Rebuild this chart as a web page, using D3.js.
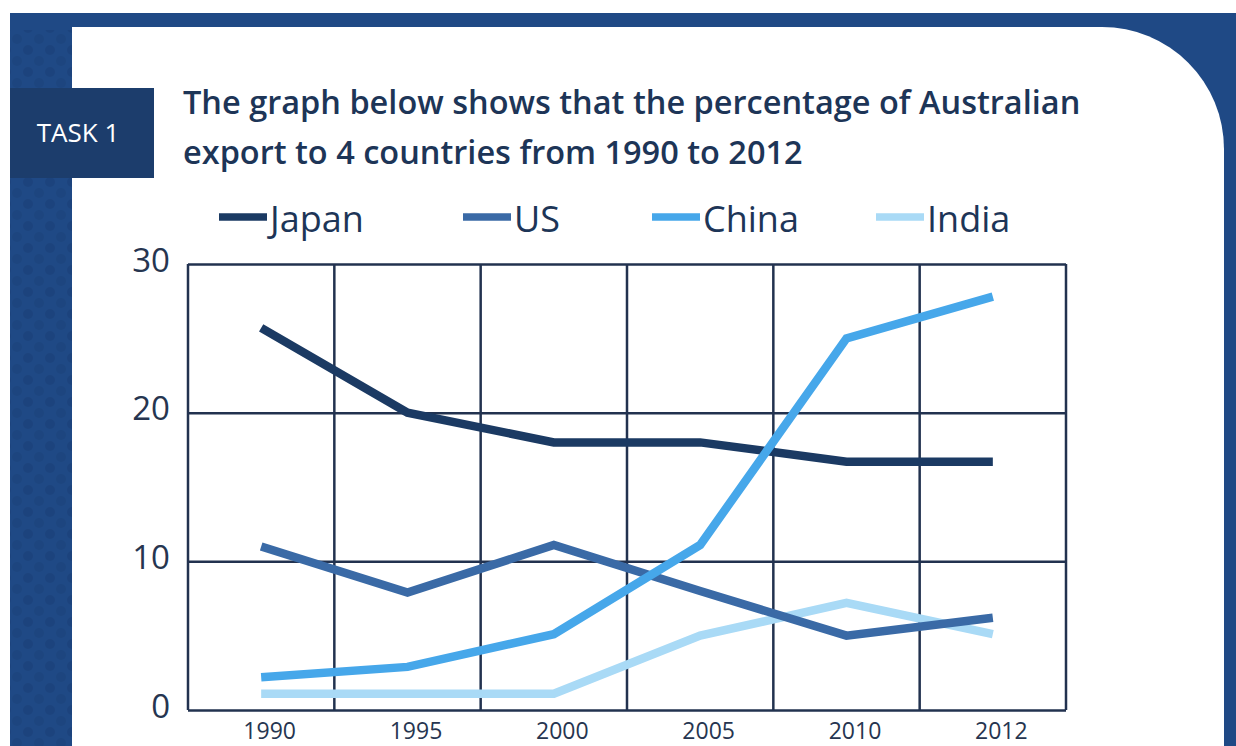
<!DOCTYPE html>
<html>
<head>
<meta charset="utf-8">
<script src="https://cdn.jsdelivr.net/npm/d3@7"></script>
<style>
  html, body { margin: 0; padding: 0; background: #ffffff; }
  svg { display: block; }
  text { font-family: "Open Sans", "Noto Sans", sans-serif; }
</style>
</head>
<body>
<svg id="chart" width="1236" height="746"></svg>
<script>
// ---- data ----
const years = ["1990", "1995", "2000", "2005", "2010", "2012"];
const seriesNames = ["Japan", "US", "China", "India"];
const japan = [25.7, 20, 18, 18, 16.7, 16.7];
const us    = [11, 7.9, 11.1, 8, 5, 6.2];
const china = [2.2, 2.9, 5.1, 11.1, 25, 27.8];
const india = [1.1, 1.1, 1.1, 5, 7.2, 5.1];
const yTicks = [0, 10, 20, 30];
const titleLines = ["The graph below shows that the percentage of Australian",
                    "export to 4 countries from 1990 to 2012"];
const taskLabel = "TASK 1";

const colors = {Japan: "#1b3a63", US: "#3a6aa6", China: "#46a7ea", India: "#a9daf6"};
const values = {Japan: japan, US: us, China: china, India: india};

(function () {
const svg = d3.select("#chart");
const W = 1236, H = 746;

// ---- background frame ----
const navy = "#1f4985";
svg.append("rect").attr("x", 10).attr("y", 13).attr("width", W - 10).attr("height", H - 13).attr("fill", navy);

// dotted texture
const defs = svg.append("defs");
const pat = defs.append("pattern").attr("id", "dots").attr("width", 22).attr("height", 22)
  .attr("patternUnits", "userSpaceOnUse");
pat.append("rect").attr("width", 22).attr("height", 22).attr("fill", navy);
pat.append("circle").attr("cx", 6).attr("cy", 6).attr("r", 5).attr("fill", "#1a3f77").attr("opacity", 0.7);
pat.append("circle").attr("cx", 17).attr("cy", 17).attr("r", 5).attr("fill", "#1a3f77").attr("opacity", 0.55);
svg.append("rect").attr("x", 10).attr("y", 30).attr("width", 62).attr("height", H - 30).attr("fill", "url(#dots)").attr("opacity", 0.8);

// white card with rounded top-right corner
const cx0 = 72, cy0 = 27, cx1 = 1224, r = 122;
svg.append("path")
  .attr("d", `M${cx0},${cy0} H${cx1 - r} A${r},${r} 0 0 1 ${cx1},${cy0 + r} V${H + 10} H${cx0} Z`)
  .attr("fill", "#ffffff");

// TASK 1 tab
svg.append("rect").attr("x", 10).attr("y", 88).attr("width", 144).attr("height", 90).attr("fill", "#1c3d6c");
svg.append("text").attr("x", 78).attr("y", 142).attr("text-anchor", "middle")
  .attr("fill", "#ffffff").attr("font-size", 26).text(taskLabel);

// title
svg.append("g").selectAll("text").data(titleLines).join("text")
  .attr("x", 183).attr("y", (d, i) => 114 + i * 50)
  .attr("fill", "#1d3557").attr("font-size", 32.5).attr("font-weight", 600)
  .text(d => d);

// ---- scales ----
const pLeft = 188, pRight = 1066, pTop = 264, pBottom = 710;
const x = d3.scalePoint().domain(years).range([pLeft, pRight]).padding(0.5);
const xb = d3.scaleBand().domain(years).range([pLeft, pRight]);
const y = d3.scaleLinear().domain([0, 30]).range([pBottom, pTop]);

const gridColor = "#22324f";

// horizontal grid + y labels via axis
const yAxis = d3.axisLeft(y).tickValues(yTicks).tickSize(-(pRight - pLeft)).tickPadding(18).tickFormat(d3.format("d"));
const gy = svg.append("g").attr("transform", `translate(${pLeft},0)`).call(yAxis);
gy.select(".domain").remove();
gy.selectAll(".tick line").attr("stroke", gridColor).attr("stroke-width", 2.5);
gy.selectAll(".tick text").attr("fill", "#263550").attr("font-size", 33)
  .attr("font-family", "Open Sans, sans-serif").attr("dy", "0.22em");

// vertical grid lines at band edges
const edges = years.map(d => xb(d)).concat([xb(years[years.length - 1]) + xb.bandwidth()]);
svg.append("g").selectAll("line").data(edges).join("line")
  .attr("x1", d => d).attr("x2", d => d).attr("y1", pTop).attr("y2", pBottom)
  .attr("stroke", gridColor).attr("stroke-width", 2.5);

// x labels via axis
const xAxis = d3.axisBottom(x).tickSize(0).tickPadding(13);
const gx = svg.append("g").attr("transform", `translate(0,${pBottom})`).call(xAxis);
gx.select(".domain").remove();
gx.selectAll(".tick text").attr("fill", "#263550").attr("font-size", 23)
  .attr("font-family", "Open Sans, sans-serif").attr("dx", 8);

// ---- lines ----
const line = d3.line().x((d, i) => x(years[i])).y(d => y(d));
const drawOrder = ["Japan", "India", "US", "China"];
svg.append("g").selectAll("path").data(drawOrder).join("path")
  .attr("d", k => line(values[k]))
  .attr("fill", "none").attr("stroke", k => colors[k]).attr("stroke-width", 8.5)
  .attr("stroke-linejoin", "miter").attr("stroke-linecap", "butt");

// ---- legend ----
const legendX = [219, 463, 652, 876];
const lg = svg.append("g").selectAll("g").data(seriesNames).join("g")
  .attr("transform", (d, i) => `translate(${legendX[i]},217)`);
lg.append("line").attr("x1", 0).attr("x2", 48).attr("y1", 0).attr("y2", 0)
  .attr("stroke", d => colors[d]).attr("stroke-width", 7.5);
lg.append("text").attr("x", 51).attr("y", 15).attr("fill", "#1d3557")
  .attr("font-size", 36).text(d => d);
})();
</script>
</body>
</html>
